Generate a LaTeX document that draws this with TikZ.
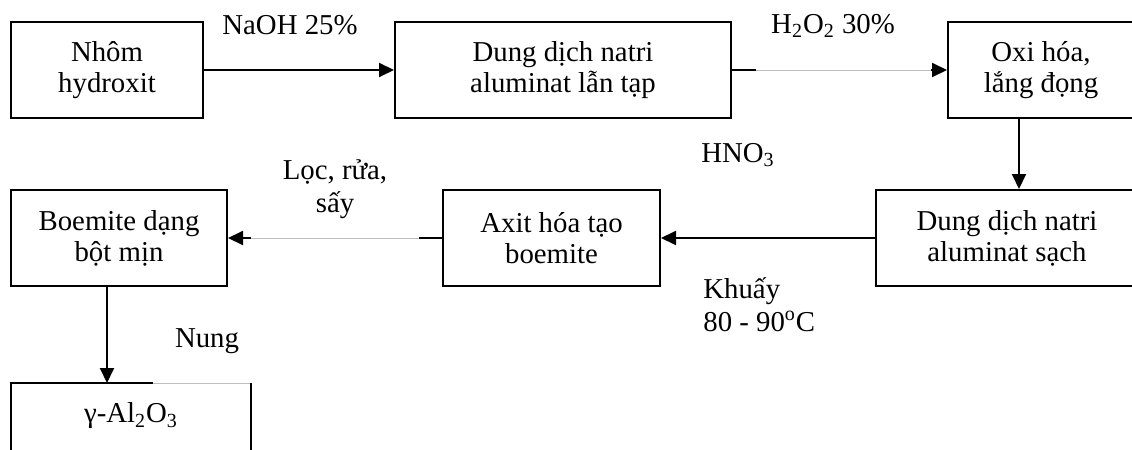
\documentclass[tikz,border=0pt]{standalone}
\usepackage{fontspec}
\setmainfont{Liberation Serif}
\usetikzlibrary{arrows.meta,calc}
\begin{document}
\begin{tikzpicture}[x=0.5pt,y=-0.5pt,
 box/.style={draw, line width=1pt, inner sep=0pt, align=center, minimum height=48pt, font=\fontsize{14.4}{15.5}\selectfont},
 lbl/.style={inner sep=0pt, align=center, font=\fontsize{14.4}{16.5}\selectfont},
 conn/.style={line width=1pt},
 arr/.style={line width=1pt, -{Triangle[length=7.5pt,width=7pt]}},
 faint/.style={line width=0.5pt, draw=black!25},
]
\useasboundingbox (0,0) rectangle (1132,450);
\begin{scope}
\clip (0,0) rectangle (1132,450);
% boxes
\node[box, minimum width=96pt] (b1) at (107,70) {Nhôm\\hydroxit};
\node[box, minimum width=168pt] (b2) at (563,70) {Dung dịch natri\\aluminat lẫn tạp};
\node[box, minimum width=93pt] (b3) at (1041,70) {Oxi hóa,\\lắng đọng};
\node[box, minimum width=131pt] (b5) at (1007,238) {Dung dịch natri\\aluminat sạch};
\node[box, minimum width=108.5pt] (b4) at (551.5,238) {Axit hóa tạo\\boemite};
\node[box, minimum width=108pt] (b6) at (119,238) {Boemite dạng\\bột mịn};
\node[lbl] (b7) at (131,416) {γ-Al\textsubscript{2}O\textsubscript{3}};
% last box, open at the bottom
\coordinate (g0) at (11,470);
\coordinate (g1) at (11,383);
\coordinate (g2) at (153,383);
\coordinate (g3) at (251,383);
\coordinate (g4) at (251,470);
\draw[conn] (g0) -- (g1) -- (g2);
\draw[faint] (g2) -- (g3);
\draw[conn] (g3) -- (g4);
% connectors
\draw[arr] (b1.east) -- (b2.west);
\coordinate (a2s) at ($(b2.east)+(24,0)$);
\coordinate (a2e) at ($(b3.west)+(-16,0)$);
\draw[conn] (b2.east) -- (a2s);
\draw[faint] (a2s) -- (a2e);
\draw[arr] (a2e) -- (b3.west);
\coordinate (x3) at (1019,0);
\draw[arr] (b3.south -| x3) -- (b5.north -| x3);
\draw[arr] (b5.west) -- (b4.east);
\coordinate (a5s) at ($(b4.west)+(-23,0)$);
\coordinate (a5e) at ($(b6.east)+(23,0)$);
\draw[conn] (b4.west) -- (a5s);
\draw[faint] (a5s) -- (a5e);
\draw[arr] (a5e) -- (b6.east);
\coordinate (x6) at (107,0);
\draw[arr] (b6.south -| x6) -- (g1 -| x6);
% labels
\node[lbl, anchor=base] (l1) at (290,34) {NaOH 25\%};
\node[lbl, anchor=base] (l2) at (833,33) {H\textsubscript{2}O\textsubscript{2} 30\%};
\node[lbl, anchor=base] (l3) at (335,212) {Lọc, rửa,\\sấy};
\node[lbl, anchor=base] (l4) at (738,162) {HNO\textsubscript{3}};
\node[lbl, anchor=base west, align=left] (l5) at (703,331) {Khuấy\\80 - 90\textsuperscript{o}C};
\node[lbl, anchor=base] (l6) at (207,347) {Nung};
\end{scope}
\end{tikzpicture}
\end{document}
